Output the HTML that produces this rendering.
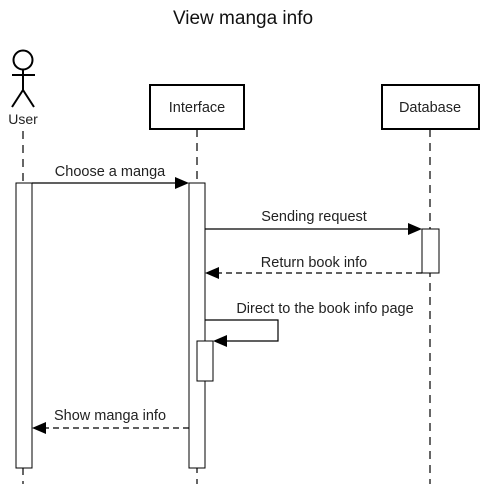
<!DOCTYPE html>
<html><head><style>body{margin:0;background:#fff}</style></head><body>
<svg width="487" height="484" xmlns="http://www.w3.org/2000/svg" font-family="Liberation Sans, sans-serif">
<rect width="487" height="484" fill="#fff"/>
<text x="243" y="24" font-size="19" text-anchor="middle" fill="#111">View manga info</text>
<g stroke="#000" fill="none" stroke-width="2">
<circle cx="23" cy="60" r="9.5"/>
<line x1="23" y1="70" x2="23" y2="90"/>
<line x1="12" y1="75" x2="35" y2="75"/>
<line x1="23" y1="90" x2="12" y2="107"/>
<line x1="23" y1="90" x2="34" y2="107"/>
</g>
<text x="23" y="124" font-size="14" text-anchor="middle" fill="#222">User</text>
<g stroke="#000" stroke-width="1.2" stroke-dasharray="8,6">
<line x1="23" y1="131" x2="23" y2="484"/>
<line x1="197" y1="129" x2="197" y2="484"/>
<line x1="430" y1="129" x2="430" y2="484"/>
</g>
<rect x="150" y="85" width="94" height="44" fill="#fff" stroke="#000" stroke-width="2"/>
<text x="197" y="112" font-size="14.5" text-anchor="middle" fill="#222">Interface</text>
<rect x="382" y="85" width="97" height="44" fill="#fff" stroke="#000" stroke-width="2"/>
<text x="430" y="112" font-size="14.5" text-anchor="middle" fill="#222">Database</text>
<rect x="16" y="183" width="16" height="285" fill="#fff" stroke="#000"/>
<rect x="189" y="183" width="16" height="285" fill="#fff" stroke="#000"/>
<rect x="422" y="229" width="17" height="44" fill="#fff" stroke="#000"/>
<rect x="197" y="341" width="16" height="40" fill="#fff" stroke="#000"/>
<g stroke="#000" stroke-width="1.2" fill="none">
<line x1="32" y1="183" x2="176" y2="183"/>
<line x1="205" y1="229" x2="409" y2="229"/>
<line x1="422" y1="273" x2="218" y2="273" stroke-dasharray="6,4"/>
<polyline points="205,320 278,320 278,341 226,341"/>
<line x1="189" y1="428" x2="46" y2="428" stroke-dasharray="6,4"/>
</g>
<g fill="#000">
<polygon points="189,183 175,177 175,189"/>
<polygon points="422,229 408,223 408,235"/>
<polygon points="205,273 219,267 219,279"/>
<polygon points="213,341 227,335 227,347"/>
<polygon points="32,428 46,422 46,434"/>
</g>
<g font-size="14.5" fill="#222" text-anchor="middle">
<text x="110" y="176">Choose a manga</text>
<text x="314" y="221">Sending request</text>
<text x="314" y="267">Return book info</text>
<text x="325" y="313">Direct to the book info page</text>
<text x="110" y="420">Show manga info</text>
</g>
</svg>
</body></html>
